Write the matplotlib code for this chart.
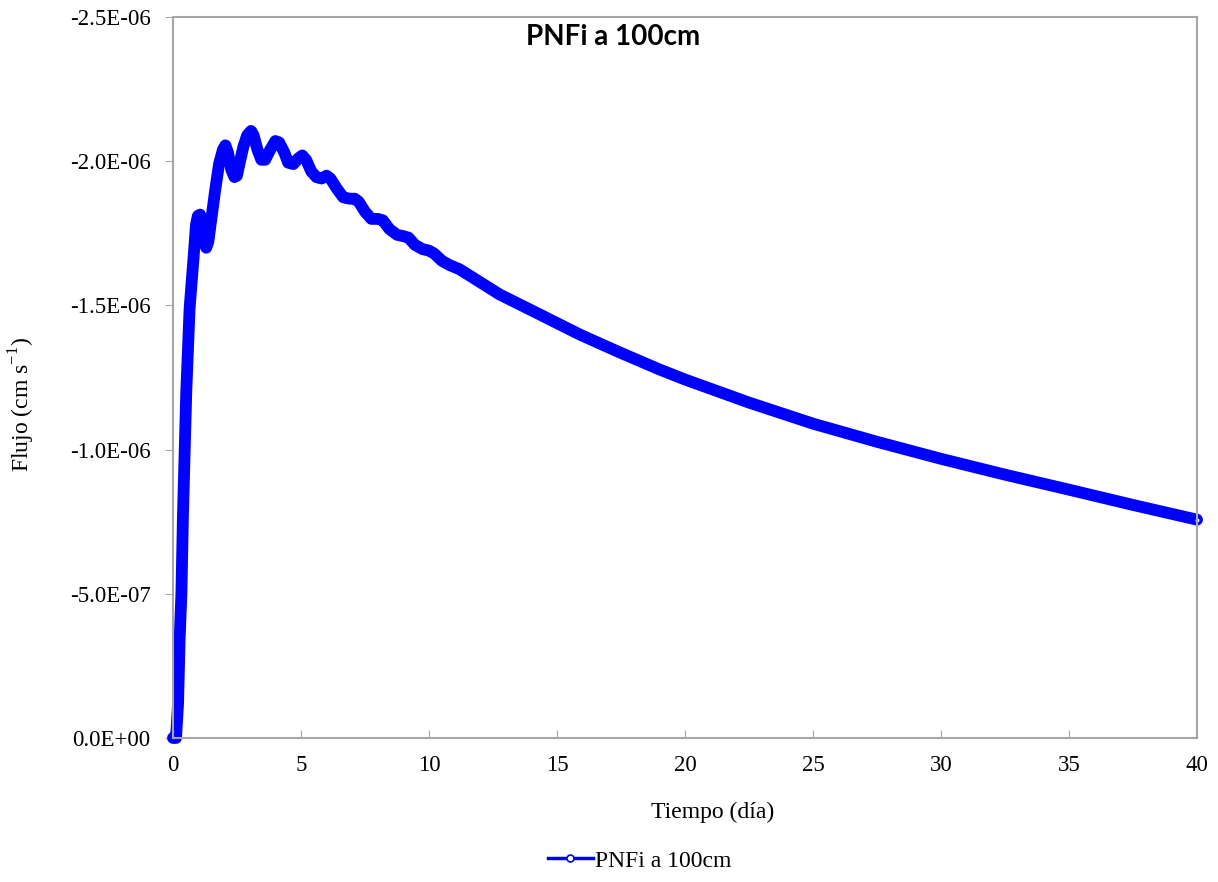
import matplotlib.pyplot as plt
from matplotlib.lines import Line2D
from matplotlib.ticker import FuncFormatter, MultipleLocator

plt.rcParams['font.family'] = ['Liberation Serif', 'DejaVu Serif']
plt.rcParams['mathtext.fontset'] = 'custom'
plt.rcParams['mathtext.rm'] = 'Liberation Serif'

# tiempo en días y flujo en unidades de 1E-06 cm/s
dias = [0.0, 0.12, 0.2, 0.26, 0.33, 0.39, 0.52, 0.65, 0.80, 0.90, 0.97, 1.06,
        1.15, 1.22, 1.30, 1.38, 1.50, 1.65, 1.80, 1.95, 2.05, 2.15, 2.28, 2.40,
        2.50, 2.62, 2.75, 2.90, 3.05, 3.15, 3.30, 3.45, 3.60, 3.80, 4.00, 4.15,
        4.35, 4.50, 4.70, 4.90, 5.05, 5.20, 5.40, 5.60, 5.80, 6.00, 6.15, 6.40,
        6.65, 6.90, 7.10, 7.25, 7.50, 7.75, 8.00, 8.20, 8.45, 8.75, 9.00, 9.20,
        9.45, 9.75, 10.0, 10.2, 10.5, 10.8, 11.2, 12.76, 14.32, 15.89, 17.45,
        19.0, 20.0, 22.5, 25.0, 27.5, 30.0, 32.5, 35.0, 37.5, 40.0]
flujo = [0.0, 0.0, -0.12, -0.34, -0.5, -0.77, -1.20, -1.49, -1.66, -1.78, -1.81, -1.815,
         -1.78, -1.72, -1.70, -1.72, -1.80, -1.90, -1.99, -2.04, -2.055, -2.03, -1.97, -1.945,
         -1.95, -2.00, -2.05, -2.09, -2.105, -2.09, -2.04, -2.005, -2.005, -2.04, -2.07, -2.065,
         -2.03, -1.995, -1.99, -2.01, -2.02, -2.005, -1.965, -1.945, -1.94, -1.95, -1.94, -1.905,
         -1.875, -1.87, -1.87, -1.86, -1.825, -1.80, -1.80, -1.795, -1.765, -1.745, -1.74, -1.735,
         -1.71, -1.695, -1.69, -1.68, -1.655, -1.64, -1.625, -1.538, -1.469, -1.399, -1.337,
         -1.278, -1.243, -1.163, -1.090, -1.027, -0.968, -0.913, -0.861, -0.808, -0.757]
serie = 'PNFi a 100cm'

y = [v * 1e-6 for v in flujo]


def etiqueta(v, pos):
    v = round(v, 12)
    return format(v + 0.0, '.1E')


fig = plt.figure(figsize=(12.18, 8.82), dpi=100)
ax = fig.add_axes([0.142, 0.1633, 0.8408, 0.8174])

ax.plot(dias, y, color='#0000ff', lw=8.5, solid_capstyle='round',
        solid_joinstyle='round', clip_on=False)
ax.plot(dias[-1:], y[-1:], 'o', color='#0000ff', mfc='white', ms=4, mew=1.2, clip_on=False)

ax.set_xlim(0, 40)
ax.set_ylim(0, -2.5e-6)
ax.xaxis.set_major_locator(MultipleLocator(5))
ax.yaxis.set_major_locator(MultipleLocator(0.5e-6))
ax.yaxis.set_major_formatter(FuncFormatter(etiqueta))

for s in ax.spines.values():
    s.set_color('#a6a6a6')
    s.set_linewidth(1.5)
ax.tick_params(axis='x', direction='in', length=6, color='#a6a6a6', labelsize=16.5, pad=12)
ax.tick_params(axis='y', direction='out', length=6, color='#a6a6a6', labelsize=16.5, pad=10)

ax.text(0.43, 0.972, serie, transform=ax.transAxes, ha='center', va='center',
        fontsize=20, fontweight='bold', family=['Lato', 'DejaVu Sans'])

fig.text(0.585, 0.079, 'Tiempo (día)', ha='center', va='center', fontsize=17)
fig.text(0.018, 0.541, 'Flujo (cm s$^{-1}$)', ha='center', va='center', rotation=90, fontsize=17)

handle = Line2D([], [], color='#0000ff', lw=2.5, marker='o', mfc='white', ms=5, mew=1.2)
fig.legend([handle], [serie], loc='center', bbox_to_anchor=(0.525, 0.024), frameon=False,
           fontsize=17, handlelength=1.9, handletextpad=0.1)

fig.savefig('out.png', dpi=100)
